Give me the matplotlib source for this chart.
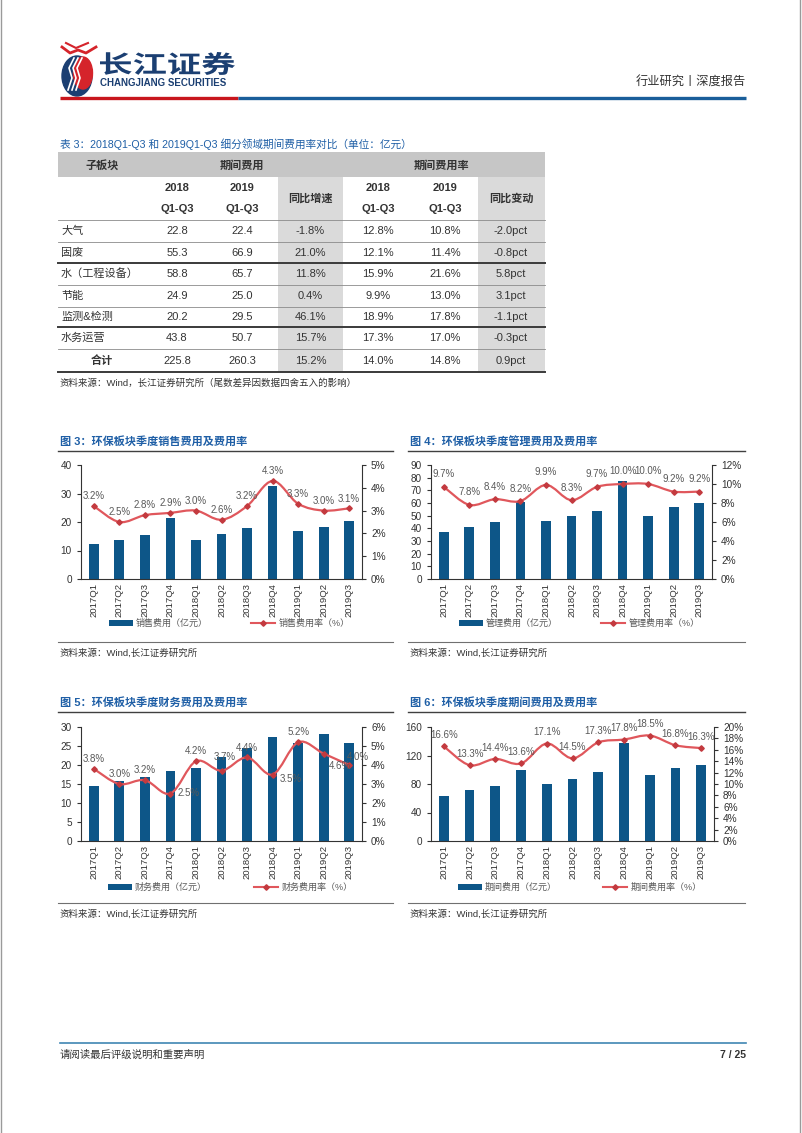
import matplotlib
matplotlib.use("Agg")
import matplotlib.pyplot as plt
from matplotlib.patches import Rectangle, Ellipse, PathPatch
from matplotlib.path import Path
from matplotlib.textpath import TextPath
from matplotlib.font_manager import FontProperties
from matplotlib.transforms import Affine2D
import numpy as np

plt.rcParams['font.family'] = ['Liberation Sans', 'Noto Sans CJK SC', 'DejaVu Sans']
plt.rcParams['axes.unicode_minus'] = False

# ---------------- data ----------------
quarters = ['2017Q1', '2017Q2', '2017Q3', '2017Q4', '2018Q1', '2018Q2',
            '2018Q3', '2018Q4', '2019Q1', '2019Q2', '2019Q3']

sales_exp = [12.2, 13.7, 15.3, 21.4, 13.7, 15.8, 17.9, 32.5, 16.7, 18.2, 20.5]
sales_rate = [3.2, 2.5, 2.8, 2.9, 3.0, 2.6, 3.2, 4.3, 3.3, 3.0, 3.1]

admin_exp = [37.0, 41.3, 45.2, 60.6, 46.0, 50.0, 54.0, 77.0, 50.0, 56.6, 59.8]
admin_rate = [9.7, 7.8, 8.4, 8.2, 9.9, 8.3, 9.7, 10.0, 10.0, 9.2, 9.2]

fin_exp = [14.5, 15.8, 16.9, 18.4, 19.3, 22.0, 24.4, 27.4, 25.8, 28.2, 25.7]
fin_rate = [3.8, 3.0, 3.2, 2.5, 4.2, 3.7, 4.4, 3.5, 5.2, 4.6, 4.0]

period_exp = [62.6, 71.5, 76.7, 100.2, 79.5, 87.0, 97.0, 137.0, 92.7, 103.0, 106.0]
period_rate = [16.6, 13.3, 14.4, 13.6, 17.1, 14.5, 17.3, 17.8, 18.5, 16.8, 16.3]

seg_names = ['大气', '固废', '水（工程设备）', '节能', '监测&检测', '水务运营', '合计']
exp_2018 = [22.8, 55.3, 58.8, 24.9, 20.2, 43.8, 225.8]
exp_2019 = [22.4, 66.9, 65.7, 25.0, 29.5, 50.7, 260.3]
exp_yoy = [-1.8, 21.0, 11.8, 0.4, 46.1, 15.7, 15.2]
rate_2018 = [12.8, 12.1, 15.9, 9.9, 18.9, 17.3, 14.0]
rate_2019 = [10.8, 11.4, 21.6, 13.0, 17.8, 17.0, 14.8]
rate_chg = [-2.0, -0.8, 5.8, 3.1, -1.1, -0.3, 0.9]

# ---------------- style ----------------
W, H = 802, 1133
BAR = '#0d5688'
LINE = '#e0575c'
MARK = '#c33a3f'
TITLE = '#1f5fa6'
NAVY = '#1b3f72'
TXT = '#333333'
LBL = '#595959'

fig = plt.figure(figsize=(W / 100, H / 100), dpi=100)
bg = fig.add_axes([0, 0, 1, 1], zorder=0)
bg.set_xlim(0, W)
bg.set_ylim(H, 0)
bg.axis('off')


def px_rect(l, t, r, b):
    return [l / W, 1 - b / H, (r - l) / W, (b - t) / H]


# page frame
bg.plot([1, 1], [0, H], color='#9a9a9a', lw=1)
bg.plot([800, 800], [0, H], color='#9a9a9a', lw=1)

# ---------------- header ----------------
# logo icon
bg.add_patch(Ellipse((77, 76), 30, 40, color=NAVY))
bg.add_patch(Ellipse((83, 73), 19, 32, color='#d5242b'))
for dx in (-4, 0, 4):
    bg.plot([72 + dx, 76 + dx, 73 + dx, 78 + dx], [90, 78, 68, 58], color='white', lw=1.2)
bg.plot([62, 70, 78, 86, 96], [47, 53, 50, 53, 47], color='#d5242b', lw=2)
bg.plot([66, 76, 88], [43, 48, 43], color='#d5242b', lw=1.5)

tp = TextPath((0, 0), '长江证券', size=1,
              prop=FontProperties(family='Noto Sans CJK SC', weight='bold'))
bb = tp.get_extents()
tr = (Affine2D().translate(-bb.x0, -bb.y0)
      .scale(135 / bb.width, -23 / bb.height).translate(100, 75) + bg.transData)
bg.add_patch(PathPatch(tp, transform=tr, color=NAVY, lw=0))
bg.text(100, 83, 'CHANGJIANG SECURITIES', fontsize=7, fontweight='bold',
        color=NAVY, va='center', ha='left')
bg.text(746, 83, '行业研究丨深度报告', fontsize=8.8, color=TXT, ha='right', va='center')
bg.plot([60, 238], [98, 98], color='#c8161d', lw=2.4, solid_capstyle='butt')
bg.plot([238, 746], [98, 98], color='#1a5e9a', lw=2.4, solid_capstyle='butt')

# ---------------- table ----------------
bg.text(60, 144, '表 3：2018Q1-Q3 和 2019Q1-Q3 细分领域期间费用率对比（单位：亿元）',
        fontsize=7.7, color=TITLE, va='center')
tl, trr = 58, 545
centers = [177, 242, 310.5, 378, 445, 511]
bg.add_patch(Rectangle((tl, 152), trr - tl, 25, color='#c6c6c6', lw=0))
for c0, c1 in ((278, 343), (478, 545)):
    bg.add_patch(Rectangle((c0, 177), c1 - c0, 372 - 177, color='#dadada', lw=0))
hfs = 8
bg.text(102, 165, '子板块', fontsize=hfs, fontweight='bold', ha='center', va='center', color=TXT)
bg.text(242, 165, '期间费用', fontsize=hfs, fontweight='bold', ha='center', va='center', color=TXT)
bg.text(442, 165, '期间费用率', fontsize=hfs, fontweight='bold', ha='center', va='center', color=TXT)
for ci, yr in ((0, '2018'), (1, '2019'), (3, '2018'), (4, '2019')):
    bg.text(centers[ci], 188, yr, fontsize=hfs, fontweight='bold', ha='center', va='center', color=TXT)
    bg.text(centers[ci], 209, 'Q1-Q3', fontsize=hfs, fontweight='bold', ha='center', va='center', color=TXT)
bg.text(centers[2], 198, '同比增速', fontsize=hfs, fontweight='bold', ha='center', va='center', color=TXT)
bg.text(centers[5], 198, '同比变动', fontsize=hfs, fontweight='bold', ha='center', va='center', color=TXT)

row_b = [220, 242, 263, 285, 307, 327, 349, 372]
thick = {263, 327, 372}
for y in row_b:
    if y in thick:
        bg.plot([tl, trr], [y, y], color='#3a3a3a', lw=1.4)
    else:
        bg.plot([tl, trr], [y, y], color='#8a8a8a', lw=0.6)

for i, name in enumerate(seg_names):
    yc = (row_b[i] + row_b[i + 1]) / 2
    if name == '合计':
        bg.text(102, yc, name, fontsize=hfs, fontweight='bold', ha='center', va='center', color=TXT)
    else:
        bg.text(61, yc, name, fontsize=hfs, ha='left', va='center', color=TXT)
    vals = ['{:.1f}'.format(exp_2018[i]), '{:.1f}'.format(exp_2019[i]),
            '{:.1f}%'.format(exp_yoy[i]), '{:.1f}%'.format(rate_2018[i]),
            '{:.1f}%'.format(rate_2019[i]), '{:.1f}pct'.format(rate_chg[i])]
    for cx, v in zip(centers, vals):
        bg.text(cx, yc, v, fontsize=hfs, ha='center', va='center', color=TXT)

bg.text(60, 383, '资料来源：Wind，长江证券研究所（尾数差异因数据四舍五入的影响）',
        fontsize=6.8, color=TXT, va='center')


# ---------------- charts ----------------
def smooth_path(xs, ys):
    pts = np.column_stack([xs, ys]).astype(float)
    n = len(pts)
    verts = [pts[0]]
    codes = [Path.MOVETO]
    for i in range(n - 1):
        p0 = pts[i - 1] if i > 0 else pts[i]
        p1 = pts[i]
        p2 = pts[i + 1]
        p3 = pts[i + 2] if i + 2 < n else pts[i + 1]
        verts += [p1 + (p2 - p0) / 6, p2 - (p3 - p1) / 6, p2]
        codes += [Path.CURVE4] * 3
    return Path(verts, codes)


def chart(box, title, title_xy, exp, rate, lmax, lstep, rmax, rstep,
          bar_name, line_name, leg, src_y, line_x, lab_off, lab_default):
    l, t, r, b = box
    ax = fig.add_axes(px_rect(l, t, r, b), zorder=2)
    ax.set_facecolor('none')
    x = np.arange(len(quarters))
    ax.bar(x, exp, width=0.38, color=BAR, zorder=2)
    ax.set_xlim(-0.5, len(quarters) - 0.5)
    ax.set_ylim(0, lmax)
    ax.set_yticks(np.arange(0, lmax + 0.01, lstep))
    ax.set_xticks(x)
    ax.set_xticklabels(quarters, rotation=90, fontsize=6.8, color=TXT)
    ax.tick_params(axis='x', length=0, pad=3)
    ax.tick_params(axis='y', labelsize=7.2, colors=TXT, length=3, width=0.8, direction='out')
    for s in ('top', 'right'):
        ax.spines[s].set_visible(False)
    for s in ('left', 'bottom'):
        ax.spines[s].set_color('#333333')
        ax.spines[s].set_linewidth(0.8)

    ax2 = ax.twinx()
    ax2.set_ylim(0, rmax)
    rt = np.arange(0, rmax + 0.01, rstep)
    ax2.set_yticks(rt)
    ax2.set_yticklabels(['{:.0f}%'.format(v) for v in rt])
    ax2.tick_params(axis='y', labelsize=7.2, colors=TXT, length=3, width=0.8, direction='out')
    for s in ('top', 'left', 'bottom'):
        ax2.spines[s].set_visible(False)
    ax2.spines['right'].set_color('#333333')
    ax2.spines['right'].set_linewidth(0.8)
    ax2.add_patch(PathPatch(smooth_path(x, rate), facecolor='none',
                            edgecolor=LINE, lw=1.6, zorder=3))
    ax2.plot(x, rate, ls='none', marker='D', ms=2.8, color=MARK, zorder=4)
    for i, v in enumerate(rate):
        dx, dy = lab_off.get(i, lab_default)
        ax2.annotate('{:.1f}%'.format(v), (x[i], v), xytext=(dx, dy),
                     textcoords='offset points', ha='center', va='center',
                     fontsize=7, color=LBL, zorder=5, annotation_clip=False)

    # title and rules
    x0, x1 = line_x
    bg.text(title_xy[0], title_xy[1], title, fontsize=8, fontweight='bold',
            color=TITLE, va='center')
    bg.plot([x0, x1], [title_xy[1] + 10, title_xy[1] + 10], color='#404040', lw=1)
    bg.plot([x0, x1], [src_y - 11, src_y - 11], color='#707070', lw=0.8)
    bg.text(x0 + 2, src_y, '资料来源：Wind,长江证券研究所', fontsize=6.8, color=TXT, va='center')

    # legend
    bx, lx, ly = leg
    bg.add_patch(Rectangle((bx, ly - 3), 24, 6, color=BAR, lw=0))
    bg.text(bx + 27, ly, bar_name, fontsize=6.5, color=LBL, va='center')
    bg.plot([lx, lx + 24], [ly, ly], color=LINE, lw=1.5)
    bg.plot([lx + 12], [ly], marker='D', ms=2.8, color=MARK)
    bg.text(lx + 28, ly, line_name, fontsize=6.5, color=LBL, va='center')


chart((81, 465, 362, 579), '图 3：环保板块季度销售费用及费用率', (60, 441),
      sales_exp, sales_rate, 40, 10, 5, 1, '销售费用（亿元）', '销售费用率（%）',
      (109, 251, 623), 653, (58, 393), {}, (0, 7))
chart((431, 465, 712, 579), '图 4：环保板块季度管理费用及费用率', (410, 441),
      admin_exp, admin_rate, 90, 10, 12, 2, '管理费用（亿元）', '管理费用率（%）',
      (459, 601, 623), 653, (408, 745), {}, (0, 9))
chart((81, 727, 362, 841), '图 5：环保板块季度财务费用及费用率', (60, 702),
      fin_exp, fin_rate, 30, 5, 6, 1, '财务费用（亿元）', '财务费用率（%）',
      (108, 254, 887), 914, (58, 393),
      {3: (13, 0), 7: (13, -3), 9: (12, -9), 10: (6, 6), 5: (2, 10)}, (0, 7))
chart((431, 727, 714, 841), '图 6：环保板块季度期间费用及费用率', (410, 702),
      period_exp, period_rate, 160, 40, 20, 2, '期间费用（亿元）', '期间费用率（%）',
      (458, 603, 887), 914, (408, 745), {}, (0, 8))

# ---------------- footer ----------------
bg.plot([60, 746], [1043, 1043], color='#3f86b3', lw=1.2)
bg.text(60, 1055, '请阅读最后评级说明和重要声明', fontsize=7.5, color=TXT, va='center')
bg.text(746, 1055, '7 / 25', fontsize=7.5, fontweight='bold', color=TXT, ha='right', va='center')

fig.savefig('out.png', dpi=100)
